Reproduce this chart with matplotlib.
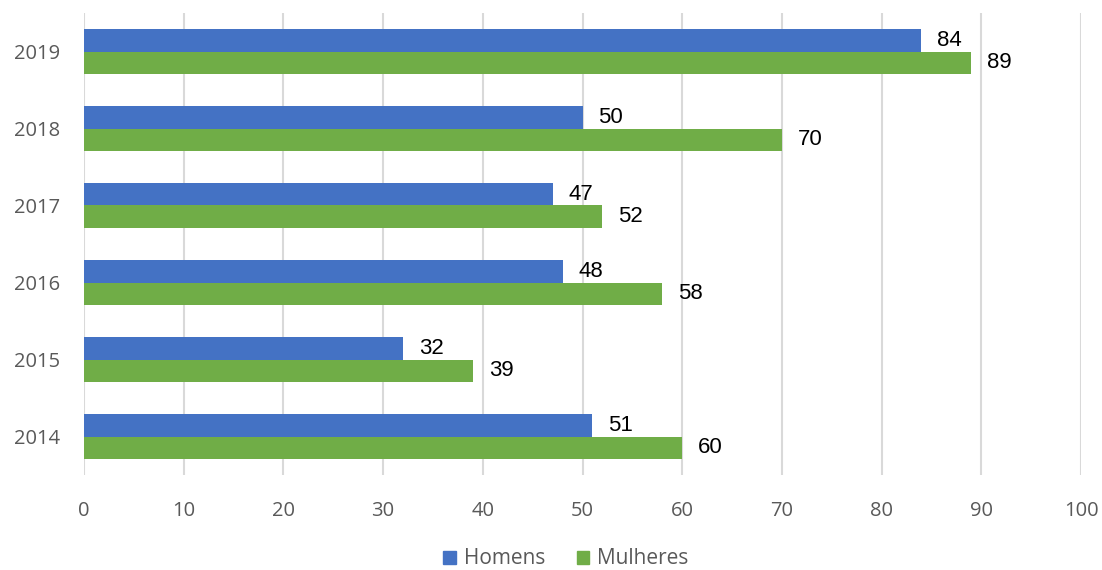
import numpy as np
from matplotlib import pyplot as plt
from matplotlib.patches import Patch

years = ['2014', '2015', '2016', '2017', '2018', '2019']
homens = [51, 32, 48, 47, 50, 84]
mulheres = [60, 39, 58, 52, 70, 89]

blue = '#4472c4'
green = '#70ad47'
gray = '#595959'

plt.rcParams['font.family'] = ['Open Sans', 'DejaVu Sans']

fig = plt.figure(figsize=(11.02, 5.70), dpi=100)
ax = fig.add_axes([84/1102, 1-475/570, (1081-84)/1102, 462/570])

y = np.arange(len(years))
h = 0.286
ax.barh(y + h/2, homens, height=h, color=blue, zorder=3)
ax.barh(y - h/2, mulheres, height=h, color=green, zorder=3)

for yi, v in zip(y, homens):
    ax.text(v + 1.6, yi + h/2, str(v), va='center', ha='left', fontsize=16,
            family='Liberation Sans', color='black')
for yi, v in zip(y, mulheres):
    ax.text(v + 1.6, yi - h/2, str(v), va='center', ha='left', fontsize=16,
            family='Liberation Sans', color='black')

ax.set_xlim(0, 100)
ax.set_ylim(-0.5, len(years) - 0.5)
ax.set_xticks(np.arange(0, 101, 10))
ax.set_yticks(y)
ax.set_yticklabels(years)
ax.tick_params(length=0, labelsize=14.5, colors=gray)
ax.tick_params(axis='y', pad=17)
ax.tick_params(axis='x', pad=19)
ax.grid(axis='x', color='#d9d9d9', linewidth=1.5, zorder=0)
for s in ax.spines.values():
    s.set_visible(False)

handles = [Patch(color=blue, label='Homens'), Patch(color=green, label='Mulheres')]
fig.legend(handles=handles, loc='center', bbox_to_anchor=(566/1102, 1-559/570), ncol=2,
           frameon=False, fontsize=15, labelcolor=gray, handlelength=0.6,
           handleheight=0.6, handletextpad=0.4, columnspacing=1.5)

fig.savefig('out.png', dpi=100)
